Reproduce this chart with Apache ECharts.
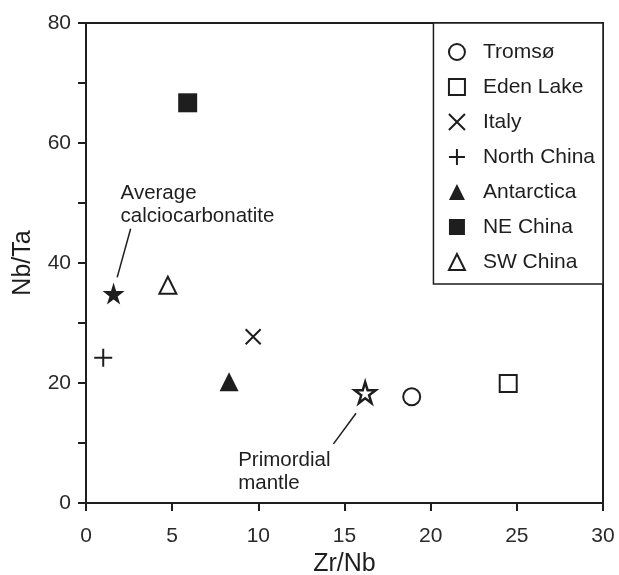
<!DOCTYPE html>
<html>
<head>
<meta charset="utf-8">
<script src="https://cdn.jsdelivr.net/npm/echarts@6/dist/echarts.min.js"></script>
<style>
  html, body { margin: 0; padding: 0; background: #fff; }
  #chart { width: 619px; height: 575px; }
</style>
</head>
<body>
<div id="chart"></div>
<script>
// Zr/Nb vs Nb/Ta, one point per locality
var groupNames = ['Tromsø', 'Eden Lake', 'Italy', 'North China', 'Antarctica', 'NE China', 'SW China'];
var tromso = [[18.9, 17.7]];
var edenLake = [[24.5, 19.9]];
var italy = [[9.7, 27.7]];
var northChina = [[1.0, 24.2]];
var antarctica = [[8.3, 20.2]];
var neChina = [[5.9, 66.7]];
var swChina = [[4.75, 36.3]];

// reference compositions
var avgCalcio = [[1.6, 34.9]];
var primordialMantle = [[16.2, 18.4]];
var avgCalcioPointer = [[2.59, 45.7], [1.81, 37.6]];
var primordialPointer = [[15.67, 14.95], [14.36, 9.85]];

var xTicks = { min: 0, max: 30, interval: 5 };
var yTicks = { min: 0, max: 80, interval: 20 };

(function() {
  var ink = '#1e1e1e';
  var font = 'Liberation Sans, Arial, sans-serif';
  var starPath = 'path://M50,0L61,35L98,35L68,57L79,91L50,70L21,91L32,57L2,35L39,35Z';
  var crossPath = 'path://M0,0L10,10M10,0L0,10';
  var plusPath = 'path://M5,0L5,10M0,5L10,5';

  function openStyle() {
    return { color: '#fff', borderColor: ink, borderWidth: 2, opacity: 1 };
  }
  function lineStyle() {
    return { color: 'none', borderColor: ink, borderWidth: 2, opacity: 1 };
  }
  function solidStyle() {
    return { color: ink, opacity: 1 };
  }

  var chart = echarts.init(document.getElementById('chart'), null, { renderer: 'canvas' });
  chart.setOption({
    animation: false,
    backgroundColor: '#fff',
    textStyle: { fontFamily: font },
    grid: {
      left: 86, right: 16, top: 23, bottom: 72,
      outerBoundsMode: 'none', containLabel: false,
      show: true, borderColor: ink, borderWidth: 2, backgroundColor: 'transparent'
    },
    legend: {
      data: groupNames,
      orient: 'vertical',
      right: 16,
      top: 23,
      backgroundColor: '#fff',
      borderColor: ink,
      borderWidth: 1.5,
      borderRadius: 0,
      padding: [18, 8, 11, 13],
      itemGap: 13,
      itemWidth: 16,
      itemHeight: 16,
      textStyle: { fontSize: 21, color: ink, lineHeight: 22, padding: [0, 0, 0, 13] },
      selectedMode: false
    },
    xAxis: {
      type: 'value',
      min: xTicks.min, max: xTicks.max, interval: xTicks.interval,
      name: 'Zr/Nb',
      nameLocation: 'middle',
      nameGap: 49,
      nameTextStyle: { fontSize: 25, color: ink },
      axisLine: { show: true, lineStyle: { color: ink, width: 2 } },
      axisTick: { show: true, length: 8, lineStyle: { color: ink, width: 2 } },
      axisLabel: { fontSize: 21, color: '#2a2a2a', margin: 23 },
      splitLine: { show: false }
    },
    yAxis: {
      type: 'value',
      min: yTicks.min, max: yTicks.max, interval: yTicks.interval,
      name: 'Nb/Ta',
      nameLocation: 'middle',
      nameGap: 50,
      nameTextStyle: { fontSize: 25, color: ink },
      axisLine: { show: true, lineStyle: { color: ink, width: 2 } },
      axisTick: { show: true, length: 8, lineStyle: { color: ink, width: 2 } },
      minorTick: { show: true, splitNumber: 2, length: 8, lineStyle: { color: ink, width: 2 } },
      axisLabel: { fontSize: 21, color: '#2a2a2a', margin: 15 },
      splitLine: { show: false },
      minorSplitLine: { show: false }
    },
    series: [
      { name: 'Tromsø', type: 'scatter', data: tromso, symbol: 'circle', symbolSize: 17, itemStyle: openStyle() },
      { name: 'Eden Lake', type: 'scatter', data: edenLake, symbol: 'rect', symbolSize: 17, itemStyle: openStyle() },
      { name: 'Italy', type: 'scatter', data: italy, symbol: crossPath, symbolSize: 15, itemStyle: lineStyle() },
      { name: 'North China', type: 'scatter', data: northChina, symbol: plusPath, symbolSize: 18, itemStyle: lineStyle() },
      { name: 'Antarctica', type: 'scatter', data: antarctica, symbol: 'triangle', symbolSize: 19, itemStyle: solidStyle() },
      { name: 'NE China', type: 'scatter', data: neChina, symbol: 'rect', symbolSize: 19, itemStyle: solidStyle() },
      { name: 'SW China', type: 'scatter', data: swChina, symbol: 'triangle', symbolSize: 17, itemStyle: openStyle() },
      {
        name: 'Average calciocarbonatite', type: 'scatter', data: avgCalcio,
        symbol: starPath, symbolSize: 22, itemStyle: solidStyle(),
        label: {
          show: true, position: 'inside', align: 'left', verticalAlign: 'top',
          offset: [7, -112], formatter: 'Average\ncalciocarbonatite',
          fontSize: 20.5, lineHeight: 23, color: ink
        }
      },
      {
        name: 'Primordial mantle', type: 'scatter', data: primordialMantle,
        symbol: starPath, symbolSize: 21, itemStyle: { color: '#fff', borderColor: ink, borderWidth: 2.5, opacity: 1 },
        label: {
          show: true, position: 'inside', align: 'left', verticalAlign: 'top',
          offset: [-127, 56], formatter: 'Primordial\nmantle',
          fontSize: 20.5, lineHeight: 23, color: ink
        }
      },
      {
        type: 'line', data: avgCalcioPointer, symbol: 'none', silent: true,
        lineStyle: { color: ink, width: 1.5 }
      },
      {
        type: 'line', data: primordialPointer, symbol: 'none', silent: true,
        lineStyle: { color: ink, width: 1.5 }
      }
    ]
  });
  window.addEventListener('resize', function() { chart.resize(); });
})();
</script>
</body>
</html>
